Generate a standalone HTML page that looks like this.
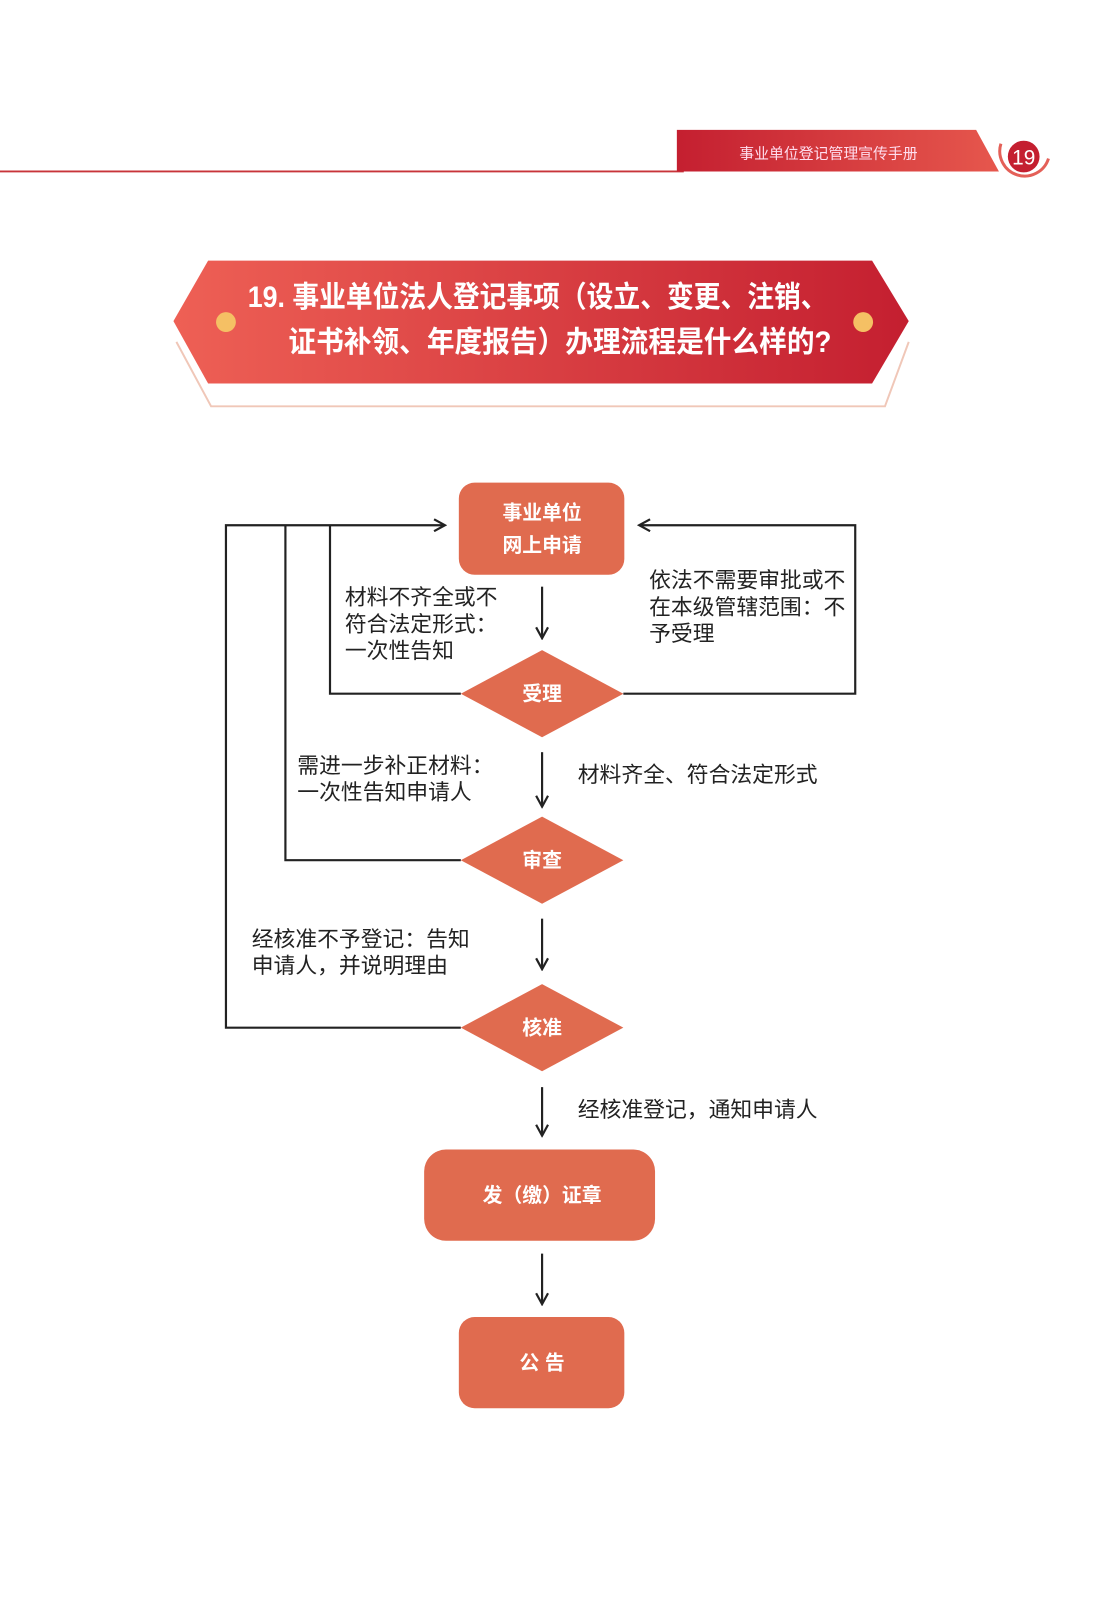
<!DOCTYPE html>
<html><head><meta charset="utf-8"><style>
html,body{margin:0;padding:0;background:#fff}
body{width:1112px;height:1600px;position:relative;overflow:hidden;font-family:"Liberation Sans","Noto Sans CJK SC",sans-serif}
#w{position:absolute;left:0;top:0;width:1112px;height:1600px;transform:scale(0.991);transform-origin:0 0}
.t{position:absolute;font-size:22px;color:#222;line-height:27px;white-space:nowrap}
</style></head><body><div id="w">
<svg width="1112" height="1600" style="position:absolute;left:0;top:0">
<defs>
<linearGradient id="g1" x1="0" x2="1"><stop offset="0" stop-color="#ee6055"/><stop offset="1" stop-color="#c41f30"/></linearGradient>
<linearGradient id="g2" x1="0" x2="1"><stop offset="0" stop-color="#c41f30"/><stop offset="1" stop-color="#e6574d"/></linearGradient>
<marker id="a" markerWidth="14" markerHeight="14" refX="12" refY="7" orient="auto" markerUnits="userSpaceOnUse"><path d="M1,1 L12,7 L1,13" fill="none" stroke="#222" stroke-width="2.2"/></marker>
</defs>
<line x1="0" y1="173" x2="690" y2="173" stroke="#c8343a" stroke-width="2"/>
<path d="M683,131 L985,131 L1008,173 L683,173 Z" fill="url(#g2)"/>
<path d="M1010,145 A25,25 0 0 0 1058,160" fill="none" stroke="#e46058" stroke-width="3"/>
<circle cx="1033" cy="158" r="16" fill="#c41f30"/>
<text x="1033" y="166" font-size="21" fill="#fff" text-anchor="middle" font-family="Liberation Sans">19</text>
<text x="836" y="160" font-size="15" fill="#fde" text-anchor="middle" font-family="Liberation Sans,Noto Sans CJK SC">事业单位登记管理宣传手册</text>
<path d="M178,345 L213,410 L893,410 L917,345" fill="none" stroke="#f0c7b8" stroke-width="2"/>
<path d="M210,263 L880,263 L917,324 L880,387 L210,387 L175,324 Z" fill="url(#g1)"/>
<circle cx="228" cy="325" r="10" fill="#f5c064"/>
<circle cx="871" cy="325" r="10" fill="#f5c064"/>
<text x="250" y="310" font-size="30" font-weight="bold" fill="#fff" font-family="Liberation Sans,Noto Sans CJK SC" textLength="585" lengthAdjust="spacingAndGlyphs">19. 事业单位法人登记事项（设立、变更、注销、</text>
<text x="291" y="355" font-size="30" font-weight="bold" fill="#fff" font-family="Liberation Sans,Noto Sans CJK SC" textLength="548" lengthAdjust="spacingAndGlyphs">证书补领、年度报告）办理流程是什么样的?</text>
<g fill="none" stroke="#222" stroke-width="2.2">
<polyline points="465,700 333,700 333,530"/>
<polyline points="465,868 288,868 288,530"/>
<polyline points="465,1037 228,1037 228,530 449,530" marker-end="url(#a)"/>
<polyline points="629,700 863,700 863,530 645,530" marker-end="url(#a)"/>
<line x1="547" y1="592" x2="547" y2="644" marker-end="url(#a)"/>
<line x1="547" y1="759" x2="547" y2="814" marker-end="url(#a)"/>
<line x1="547" y1="927" x2="547" y2="978" marker-end="url(#a)"/>
<line x1="547" y1="1097" x2="547" y2="1146" marker-end="url(#a)"/>
<line x1="547" y1="1265" x2="547" y2="1316" marker-end="url(#a)"/>
</g>
<g fill="#e06b4f">
<rect x="463" y="487" width="167" height="93" rx="16"/>
<polygon points="465,700 547,656 629,700 547,744"/>
<polygon points="465,868 547,824 629,868 547,912"/>
<polygon points="465,1037 547,993 629,1037 547,1081"/>
<rect x="428" y="1160" width="233" height="92" rx="22"/>
<rect x="463" y="1329" width="167" height="92" rx="16"/>
</g>
<g fill="#fff" font-size="20" font-weight="bold" text-anchor="middle" font-family="Liberation Sans,Noto Sans CJK SC">
<text x="547" y="524">事业单位</text>
<text x="547" y="557">网上申请</text>
<text x="547" y="707">受理</text>
<text x="547" y="875">审查</text>
<text x="547" y="1044">核准</text>
<text x="547" y="1213">发（缴）证章</text>
<text x="547" y="1382">公 告</text>
</g>
</svg>
<div class="t" style="left:348px;top:589px">材料不齐全或不<br>符合法定形式：<br>一次性告知</div>
<div class="t" style="left:655px;top:572px">依法不需要审批或不<br>在本级管辖范围：不<br>予受理</div>
<div class="t" style="left:300px;top:759px">需进一步补正材料：<br>一次性告知申请人</div>
<div class="t" style="left:583px;top:768px">材料齐全、符合法定形式</div>
<div class="t" style="left:254px;top:934px">经核准不予登记：告知<br>申请人，并说明理由</div>
<div class="t" style="left:583px;top:1106px">经核准登记，通知申请人</div>
</div></body></html>
